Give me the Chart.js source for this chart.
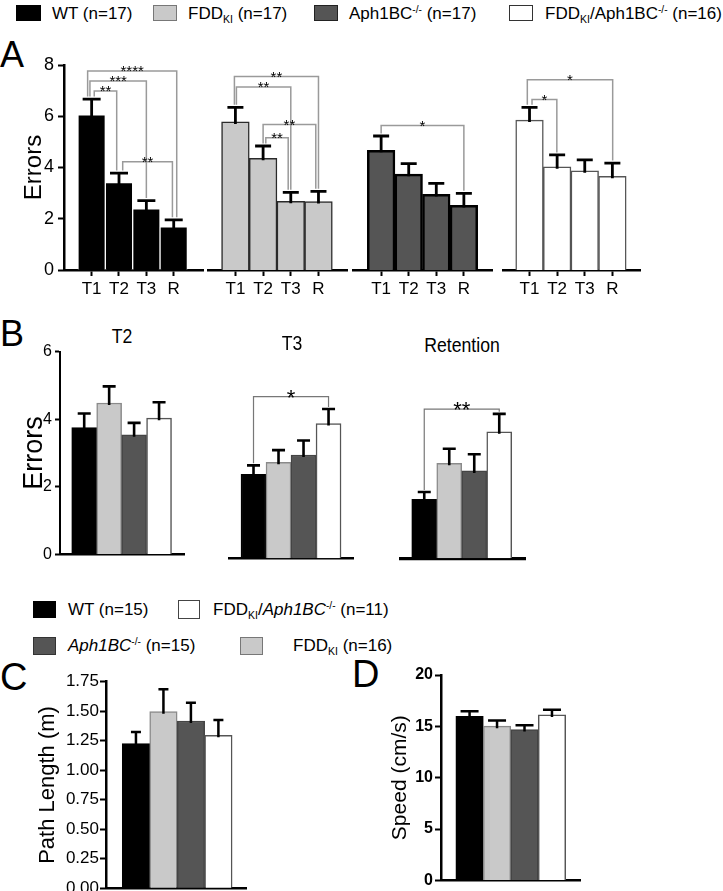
<!DOCTYPE html>
<html><head><meta charset="utf-8">
<script src="https://cdn.jsdelivr.net/npm/chart.js@4.4.1/dist/chart.umd.min.js"></script>
<style>
html,body{margin:0;padding:0;background:#fff;}
body{width:723px;height:891px;position:relative;overflow:hidden;font-family:'Liberation Sans',Arial,sans-serif;color:#000;}
canvas{position:absolute;}
.t{position:absolute;white-space:nowrap;}
.sw{position:absolute;box-sizing:border-box;}
sub{font-size:0.62em;vertical-align:-0.38em;line-height:0;}
sup{font-size:0.6em;vertical-align:0.62em;line-height:0;}
</style></head><body>
<script>
// ---------------- DATA ----------------
const trialLabels = ['T1', 'T2', 'T3', 'R'];
// Panel A: errors per trial (mean, SEM)
const wtErrors  = [6.06, 3.41, 2.39, 1.68];
const wtSem     = [0.61, 0.37, 0.32, 0.28];
const fddErrors = [5.78, 4.36, 2.68, 2.67];
const fddSem    = [0.57, 0.48, 0.35, 0.40];
const aphErrors = [4.67, 3.74, 2.95, 2.52];
const aphSem    = [0.56, 0.41, 0.43, 0.47];
const dkiErrors = [5.85, 4.03, 3.87, 3.66];
const dkiSem    = [0.50, 0.46, 0.43, 0.51];
// Panel B: genotype order WT, FDD_KI, Aph1BC-/-, FDD_KI/Aph1BC-/-
const t2Errors  = [3.75, 4.48, 3.54, 4.03];
const t2Sem     = [0.42, 0.49, 0.35, 0.47];
const t3Errors  = [2.43, 2.78, 2.99, 3.90];
const t3Sem     = [0.26, 0.35, 0.42, 0.42];
const retErrors = [1.71, 2.75, 2.53, 3.66];
const retSem    = [0.21, 0.42, 0.48, 0.52];
// Panel C / D
const pathLength    = [1.225, 1.496, 1.417, 1.296];
const pathLengthSem = [0.099, 0.189, 0.155, 0.129];
const speed         = [15.98, 15.02, 14.69, 16.11];
const speedSem      = [0.48, 0.54, 0.42, 0.51];
// Significance comparisons (bar a vs bar b, bracket level in data units, label)
const sigWT  = [{a:0,b:3,y:7.77,label:'****'},{a:0,b:2,y:7.38,label:'***'},{a:0,b:1,y:6.99,label:'**'},{a:1,b:3,y:4.22,label:'**'}];
const sigFDD = [{a:0,b:3,y:7.55,label:'**'},{a:0,b:2,y:7.14,label:'**'},{a:1,b:3,y:5.68,label:'**'},{a:1,b:2,y:5.16,label:'**'}];
const sigAph = [{a:0,b:3,y:5.64,label:'*'}];
const sigDKI = [{a:0,b:3,y:7.42,label:'*'},{a:0,b:1,y:6.65,label:'*'}];
const sigT3  = [{a:0,b:3,y:4.68,label:'*'}];
const sigRet = [{a:0,b:3,y:4.32,label:'**'}];

// ---------------- STYLE ----------------
const FONT = "'Liberation Sans', Arial, sans-serif";
const NARROW = "'Liberation Sans Narrow', 'Arial Narrow', 'Liberation Sans', Arial, sans-serif";
const C_WT = '#000000', C_FDD = '#c9c9c9', C_APH = '#555555', C_DKI = '#ffffff';
// leg x-nudges (px) for nested brackets
const nudgeWT  = [[-4,3],[-1.7,0],[2.6,-2.3],[3.7,-1.3]];
const nudgeFDD = [[-1,0],[1,0],[0,-2.7],[2.7,-2.6]];
const nudgeAph = [[0,0]];
const nudgeDKI = [[-2.2,0.3],[2.5,-0.3]];

Chart.defaults.font.family = FONT;
Chart.defaults.color = '#000';

const errPlugin = {
  id: 'errbars',
  afterDatasetsDraw(chart) {
    const ds = chart.data.datasets[0];
    if (!ds.sem) return;
    const st = ds.errStyle, ys = chart.scales.y, ctx = chart.ctx;
    const meta = chart.getDatasetMeta(0);
    ctx.save();
    ctx.strokeStyle = '#000'; ctx.lineWidth = st.width; ctx.lineCap = 'butt';
    meta.data.forEach((bar, i) => {
      const v = ds.data[i].y;
      const base = ys.getPixelForValue(v), top = ys.getPixelForValue(v + ds.sem[i]);
      ctx.beginPath();
      ctx.moveTo(bar.x, base + 2); ctx.lineTo(bar.x, top);
      ctx.moveTo(bar.x - st.cap, top); ctx.lineTo(bar.x + st.cap, top);
      ctx.stroke();
    });
    ctx.restore();
  }
};
const bracketPlugin = {
  id: 'brackets',
  afterDatasetsDraw(chart) {
    const ds = chart.data.datasets[0];
    if (!ds.brackets) return;
    const st = ds.brStyle, ys = chart.scales.y, ctx = chart.ctx;
    const meta = chart.getDatasetMeta(0);
    ctx.save();
    ds.brackets.forEach((b, k) => {
      const nd = (ds.nudge && ds.nudge[k]) || [0, 0];
      const xa = meta.data[b.a].x + nd[0], xb = meta.data[b.b].x + nd[1];
      const capA = ds.data[b.a].y + ds.sem[b.a], capB = ds.data[b.b].y + ds.sem[b.b];
      const yt = ys.getPixelForValue(b.y);
      const ya = ys.getPixelForValue(capA + st.gap), yb = ys.getPixelForValue(capB + st.gap);
      ctx.strokeStyle = st.color; ctx.lineWidth = st.width;
      ctx.beginPath();
      ctx.moveTo(xa, ya); ctx.lineTo(xa, yt); ctx.lineTo(xb, yt); ctx.lineTo(xb, yb);
      ctx.stroke();
      ctx.fillStyle = '#000';
      ctx.font = (st.weight || 'normal') + ' ' + st.size + 'px ' + FONT;
      ctx.textAlign = 'center'; ctx.textBaseline = 'alphabetic';
      ctx.fillText(b.label, (xa + xb) / 2, yt + st.size * 0.36);
    });
    ctx.restore();
  }
};
Chart.register(errPlugin, bracketPlugin);

function makeBar(o) {
  const padL0 = o.padLeft ?? 2, padR = o.padRight ?? 6, padT0 = o.padTop ?? 12, padB = o.padBottom ?? 4;
  const left = Math.floor(o.area[0] - o.yw - padL0), top = Math.floor(o.area[2] - padT0);
  const padL = o.area[0] - o.yw - left, padT = o.area[2] - top;
  const W = Math.ceil(o.area[1] + padR - left), H = Math.ceil(o.area[3] + o.xh + padB - top);
  const padRight = W - (o.area[1] - left), padBottom = H - (o.area[3] - top) - o.xh;
  const c = document.createElement('canvas');
  c.width = W; c.height = H;
  c.style.left = left + 'px'; c.style.top = top + 'px';
  c.style.width = W + 'px'; c.style.height = H + 'px';
  document.body.appendChild(c);
  const n = o.values.length;
  return new Chart(c, {
    type: 'bar',
    data: { datasets: [{
      data: o.values.map((v, i) => ({ x: i, y: v })),
      backgroundColor: o.colors, borderColor: o.borders, borderWidth: o.bw,
      categoryPercentage: 1, barPercentage: 1,
      sem: o.sem, errStyle: o.err, brackets: o.brackets || null, nudge: o.nudge || null,
      brStyle: o.brStyle || null
    }]},
    options: {
      responsive: false, animation: false, devicePixelRatio: 1,
      layout: { padding: { left: padL, right: padRight, top: padT, bottom: padBottom } },
      plugins: { legend: { display: false }, tooltip: { enabled: false }, title: { display: false } },
      scales: {
        x: {
          type: 'linear', min: o.xmin, max: o.xmax, offset: false,
          afterFit: s => { s.height = o.xh; },
          afterBuildTicks: s => { s.ticks = Array.from({ length: n }, (_, i) => ({ value: i })); },
          ticks: { display: !!o.xLabels, autoSkip: false, maxRotation: 0, padding: o.xTickPad ?? 2,
                   color: '#000', font: { family: FONT, size: o.xFont || 16 },
                   callback: v => (o.xLabels ? o.xLabels[v] : '') },
          grid: { display: !!o.xLabels, offset: false, drawOnChartArea: false, drawTicks: true, tickLength: 6,
                  tickWidth: 2, color: '#000', tickColor: '#000' },
          border: { display: true, color: '#000', width: o.xAxisW || 2.5 }
        },
        y: {
          display: !!o.showY, min: o.ymin, max: o.ymax,
          afterFit: s => { s.width = o.yw; },
          ticks: { stepSize: o.step, color: '#000', padding: o.yTickPad ?? 3,
                   font: o.yFont || { family: FONT, size: 17 },
                   callback: o.yFmt || (v => v) },
          grid: { drawOnChartArea: false, drawTicks: true, tickLength: o.yTickLen || 6, tickWidth: 2,
                  color: '#000', tickColor: '#000' },
          border: { display: true, color: '#000', width: o.yAxisW || 2.5 },
          title: { display: !!o.yTitle, text: o.yTitle || '', color: '#000',
                   font: { family: FONT, size: o.yTitleSize || 22 },
                   padding: { top: o.yTitlePad || 0, bottom: 0 } }
        }
      }
    }
  });
}

function txt(html, x, baseline, size, opt) {
  opt = opt || {};
  const d = document.createElement('div');
  d.className = 't'; d.innerHTML = html;
  d.style.fontSize = size + 'px'; d.style.lineHeight = size + 'px';
  d.style.fontFamily = opt.family || FONT;
  if (opt.weight) d.style.fontWeight = opt.weight;
  d.style.top = (baseline - 0.8465 * size) + 'px';
  d.style.left = x + 'px';
  const sx = opt.scaleX ? ' scaleX(' + opt.scaleX + ')' : '';
  if (opt.center) d.style.transform = 'translateX(-50%)' + sx;
  else if (sx) { d.style.transform = sx; d.style.transformOrigin = 'left'; }
  document.body.appendChild(d);
}
function swatch(x, y, w, h, fill, border) {
  const d = document.createElement('div');
  d.className = 'sw';
  Object.assign(d.style, { left: x + 'px', top: y + 'px', width: w + 'px', height: h + 'px',
    background: fill, border: '1px solid ' + border });
  document.body.appendChild(d);
}

// ---------------- LEGEND (top) ----------------
swatch(16, 5, 25, 16, C_WT, '#000');
txt('WT (n=17)', 52, 19, 17);
swatch(153, 5, 24, 16, C_FDD, '#777');
txt('FDD<sub>KI</sub> (n=17)', 188, 19, 17);
swatch(314, 5, 24, 16, C_APH, '#222');
txt('Aph1BC<sup>-/-</sup> (n=17)', 349, 19, 17);
swatch(509, 5, 24, 16, C_DKI, '#333');
txt('FDD<sub>KI</sub>/Aph1BC<sup>-/-</sup> (n=16)', 545, 19, 17);

// ---------------- PANEL A ----------------
txt('A', 0, 67, 36);
const errA = { width: 2.8, cap: 8 };
const brA = { color: '#9a9a9a', width: 1.5, gap: 0.1, size: 15 };
makeBar({ area: [64, 203, 65, 270], yw: 64, xh: 30, padLeft: 0, padTop: 20,
  values: wtErrors, sem: wtSem, colors: C_WT, borders: '#ffffff', bw: 1,
  xmin: -1.01, xmax: 4.07, ymin: 0, ymax: 8, step: 2, showY: true,
  xLabels: trialLabels, xTickPad: 3, xFont: 17, yTickPad: 4, yFont: { family: FONT, size: 18 },
  yTitle: 'Errors', yTitleSize: 24, yTitlePad: 19.6,
  err: { width: 2.8, cap: 9 }, brackets: sigWT, nudge: nudgeWT, brStyle: brA });
makeBar({ area: [208, 347, 65, 270], yw: 0, xh: 30, padTop: 20,
  values: fddErrors, sem: fddSem, colors: C_FDD, borders: '#2a2a2a', bw: 1.5,
  xmin: -0.99, xmax: 4.03, ymin: 0, ymax: 8, step: 2,
  xLabels: trialLabels, xTickPad: 3, xFont: 17,
  err: errA, brackets: sigFDD, nudge: nudgeFDD, brStyle: brA });
makeBar({ area: [353, 492, 65, 270], yw: 0, xh: 30, padTop: 20,
  values: aphErrors, sem: aphSem, colors: C_APH, borders: '#000000', bw: 2.5,
  xmin: -1.02, xmax: 4.02, ymin: 0, ymax: 8, step: 2,
  xLabels: trialLabels, xTickPad: 3, xFont: 17,
  err: errA, brackets: sigAph, nudge: nudgeAph, brStyle: brA });
makeBar({ area: [503, 640, 65, 270], yw: 0, xh: 30, padTop: 20,
  values: dkiErrors, sem: dkiSem, colors: C_DKI, borders: '#555555', bw: 1.5,
  xmin: -0.96, xmax: 4.0, ymin: 0, ymax: 8, step: 2,
  xLabels: trialLabels, xTickPad: 3, xFont: 17,
  err: errA, brackets: sigDKI, nudge: nudgeDKI, brStyle: brA });

// ---------------- PANEL B ----------------
txt('B', 0, 346, 36);
txt('T2', 121.7, 343, 21, { family: NARROW, center: true, scaleX: 0.84 });
txt('T3', 292, 350, 21, { family: NARROW, center: true, scaleX: 0.84 });
txt('Retention', 462, 352, 21, { family: NARROW, center: true, scaleX: 0.84 });
const colsB = [C_WT, C_FDD, C_APH, C_DKI];
const bordB = ['#000000', '#8a8a8a', '#444444', '#555555'];
const errB = { width: 2.6, cap: 6.5 };
const brB = { color: '#777777', width: 1.2, gap: 0.06, size: 22 };
makeBar({ area: [60, 184, 351, 558.3], yw: 60, xh: 4, padLeft: 0, padTop: 12,
  values: t2Errors, sem: t2Sem, colors: colsB, borders: bordB, bw: 1.5,
  xmin: -0.97, xmax: 4.0, ymin: 0, ymax: 6, step: 2, showY: true,
  yTickPad: 3, yTickLen: 5, yFont: { family: NARROW, size: 16 }, xAxisW: 2.5, yAxisW: 2,
  yTitle: 'Errors', yTitleSize: 27, yTitlePad: 18, err: errB });
makeBar({ area: [229, 353.3, 351, 558.3], yw: 0, xh: 4, padTop: 12,
  values: t3Errors, sem: t3Sem, colors: colsB, borders: bordB, bw: 1.5,
  xmin: -0.98, xmax: 3.99, ymin: 0, ymax: 6, step: 2, xAxisW: 2.5,
  err: errB, brackets: sigT3, brStyle: brB });
makeBar({ area: [401, 525, 351, 558.3], yw: 0, xh: 4, padTop: 12,
  values: retErrors, sem: retSem, colors: colsB, borders: bordB, bw: 1.5,
  xmin: -0.93, xmax: 4.03, ymin: 0, ymax: 6, step: 2, xAxisW: 3.2,
  err: errB, brackets: sigRet, brStyle: brB });

// ---------------- LEGEND (C/D) ----------------
swatch(33, 601, 23, 17, C_WT, '#000');
txt('WT (n=15)', 68, 615, 17);
swatch(178, 600, 22, 19, C_DKI, '#444');
txt('FDD<sub>KI</sub>/<i>Aph1BC</i><sup>-/-</sup> (n=11)', 213, 615, 17);
swatch(33, 637, 23, 18, C_APH, '#333');
txt('<i>Aph1BC</i><sup>-/-</sup> (n=15)', 68, 651, 17);
swatch(240, 637, 23, 18, C_FDD, '#777');
txt('FDD<sub>KI</sub> (n=16)', 293, 651, 17);

// ---------------- PANEL C ----------------
txt('C', 0, 690, 38);
makeBar({ area: [106, 246.7, 681.7, 888.3], yw: 106, xh: 3, padLeft: 0, padTop: 12, padBottom: 12,
  values: pathLength, sem: pathLengthSem, colors: colsB, borders: bordB, bw: 1.5,
  xmin: -1.09, xmax: 4.03, ymin: 0, ymax: 1.75, step: 0.25, showY: true,
  yTickPad: 1, yTickLen: 6, yFont: { family: FONT, size: 17 }, yFmt: v => Number(v).toFixed(2),
  yTitle: 'Path Length (m)', yTitleSize: 22, yTitlePad: 34.8, err: { width: 2.5, cap: 5 } });

// ---------------- PANEL D ----------------
txt('D', 352, 687, 38);
makeBar({ area: [441, 580, 675, 882.3], yw: 65, xh: 3, padLeft: 0, padTop: 12, padBottom: 6,
  values: speed, sem: speedSem, colors: colsB, borders: bordB, bw: 1.5,
  xmin: -1.04, xmax: 4.02, ymin: 0, ymax: 20, step: 5, showY: true,
  yTickPad: 2, yTickLen: 6, yFont: { family: FONT, size: 16, weight: 'bold' },
  yTitle: 'Speed (cm/s)', yTitleSize: 21, yTitlePad: 11.4, err: { width: 2.5, cap: 9 } });
</script>
</body></html>
